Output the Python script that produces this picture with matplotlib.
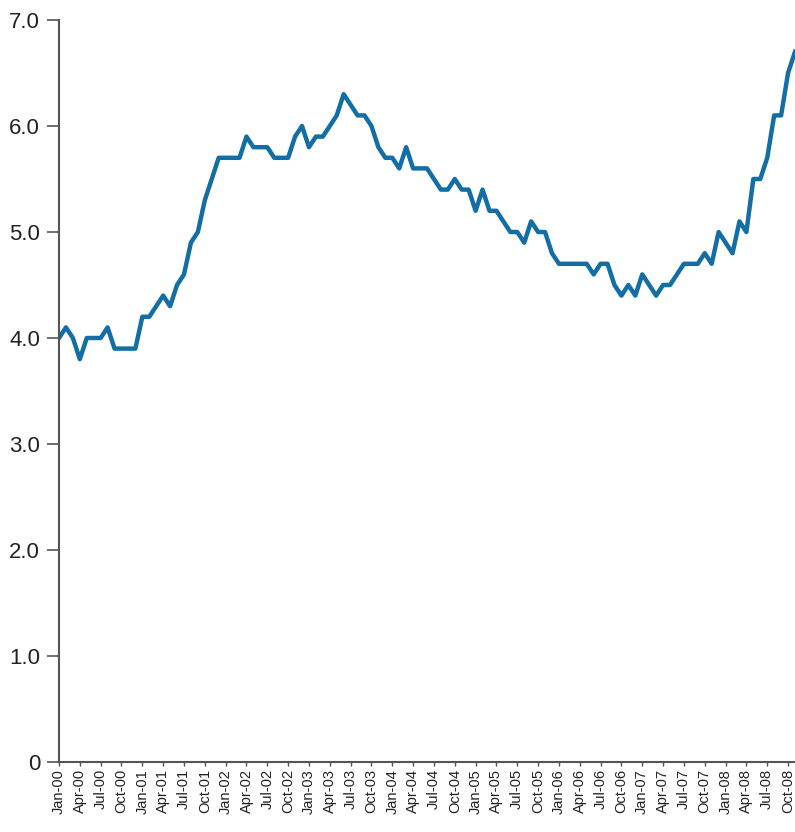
import matplotlib
matplotlib.use("Agg")
import matplotlib.pyplot as plt

# Monthly rate, Jan-00 .. Nov-08
rate_2000 = [4.0, 4.1, 4.0, 3.8, 4.0, 4.0, 4.0, 4.1, 3.9, 3.9, 3.9, 3.9]
rate_2001 = [4.2, 4.2, 4.3, 4.4, 4.3, 4.5, 4.6, 4.9, 5.0, 5.3, 5.5, 5.7]
rate_2002 = [5.7, 5.7, 5.7, 5.9, 5.8, 5.8, 5.8, 5.7, 5.7, 5.7, 5.9, 6.0]
rate_2003 = [5.8, 5.9, 5.9, 6.0, 6.1, 6.3, 6.2, 6.1, 6.1, 6.0, 5.8, 5.7]
rate_2004 = [5.7, 5.6, 5.8, 5.6, 5.6, 5.6, 5.5, 5.4, 5.4, 5.5, 5.4, 5.4]
rate_2005 = [5.2, 5.4, 5.2, 5.2, 5.1, 5.0, 5.0, 4.9, 5.1, 5.0, 5.0, 4.8]
rate_2006 = [4.7, 4.7, 4.7, 4.7, 4.7, 4.6, 4.7, 4.7, 4.5, 4.4, 4.5, 4.4]
rate_2007 = [4.6, 4.5, 4.4, 4.5, 4.5, 4.6, 4.7, 4.7, 4.7, 4.8, 4.7, 5.0]
rate_2008 = [4.9, 4.8, 5.1, 5.0, 5.5, 5.5, 5.7, 6.1, 6.1, 6.5, 6.7]

months = ["Jan", "Apr", "Jul", "Oct"]
years = ["00", "01", "02", "03", "04", "05", "06", "07", "08"]

y_ticks = [0, 1, 2, 3, 4, 5, 6, 7]
y_labels = ["0", "1.0", "2.0", "3.0", "4.0", "5.0", "6.0", "7.0"]

rate = (rate_2000 + rate_2001 + rate_2002 + rate_2003 + rate_2004
        + rate_2005 + rate_2006 + rate_2007 + rate_2008)
x = list(range(len(rate)))

# quarterly tick labels like "Jan-00", "Apr-00", ...
tick_pos = []
tick_lab = []
for yi, yr in enumerate(years):
    for mi, m in enumerate(months):
        tick_pos.append(yi * 12 + mi * 3)
        tick_lab.append(f"{m}-{yr}")

plt.rcParams["font.family"] = ["Liberation Sans", "DejaVu Sans"]

fig = plt.figure(figsize=(7.95, 8.32), dpi=100)
ax = fig.add_axes([59 / 795, 70 / 832, 1 - 59 / 795, 742 / 832])

ax.plot(x, rate, color="#126ea4", lw=3.2, solid_joinstyle="round")

ax.set_xlim(0, 106)
ax.set_ylim(0, 7)

ax.set_yticks(y_ticks)
ax.set_yticklabels(y_labels, fontsize=16, color="#222222")
ax.set_xticks(tick_pos)
ax.set_xticklabels(tick_lab, rotation=90, fontsize=10.5, color="#222222")

ax.tick_params(axis="y", length=8.5, width=1.2, color="#555555", pad=5)
ax.tick_params(axis="x", length=3, width=1.0, color="#555555", pad=2)

for side in ["top", "right"]:
    ax.spines[side].set_visible(False)
for side in ["left", "bottom"]:
    ax.spines[side].set_color("#555555")
    ax.spines[side].set_linewidth(1.5)

fig.savefig("out.png", dpi=100)
